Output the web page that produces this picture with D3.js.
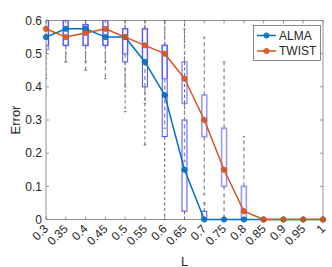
<!DOCTYPE html>
<html>
<head>
<meta charset="utf-8">
<script src="https://cdn.jsdelivr.net/npm/d3@7"></script>
<style>
  body { margin: 0; background: #fff; }
  svg { display: block; font-family: "Liberation Sans", Arial, sans-serif; }
</style>
</head>
<body>
<svg id="chart" width="332" height="267"></svg>
<script>
// L values (x axis)
const L = [0.3, 0.35, 0.4, 0.45, 0.5, 0.55, 0.6, 0.65, 0.7, 0.75, 0.8, 0.85, 0.9, 0.95, 1];
const xTicks = L;
const yTicks = [0, 0.1, 0.2, 0.3, 0.4, 0.5, 0.6];

// medians (plotted lines)
const almaMed  = [0.55, 0.575, 0.575, 0.55, 0.55, 0.475, 0.375, 0.15, 0, 0, 0, 0, 0, 0, 0];
const twistMed = [0.575, 0.55, 0.5625, 0.575, 0.55, 0.525, 0.5, 0.425, 0.3, 0.15, 0.025, 0, 0, 0, 0];

// box stats
const almaQ1 = [0.525, 0.525, 0.525, 0.525, 0.475, 0.4, 0.25, 0.025, 0, 0, 0, 0, 0, 0, 0];
const almaQ3 = [0.6, 0.6, 0.5875, 0.6, 0.575, 0.575, 0.525, 0.3, 0.025, 0, 0, 0, 0, 0, 0];
const almaLo = [0.425, 0.475, 0.475, 0.475, 0.325, 0.225, 0, 0, 0, 0, 0, 0, 0, 0, 0];
const almaHi = [0.6, 0.6, 0.6, 0.6, 0.6, 0.6, 0.6, 0.6, 0.05, 0, 0, 0, 0, 0, 0];

const twistQ1 = [0.5125, 0.525, 0.525, 0.525, 0.5, 0.475, 0.425, 0.35, 0.25, 0.1, 0, 0, 0, 0, 0];
const twistQ3 = [0.6, 0.6, 0.5875, 0.6, 0.575, 0.575, 0.525, 0.475, 0.375, 0.275, 0.1, 0, 0, 0, 0];
const twistLo = [0.5, 0.475, 0.45, 0.425, 0.4, 0.35, 0.275, 0.175, 0.075, 0, 0, 0, 0, 0, 0];
const twistHi = [0.6, 0.6, 0.6, 0.6, 0.6, 0.6, 0.6, 0.575, 0.55, 0.475, 0.25, 0, 0, 0, 0];

const svg = d3.select("#chart");
const mLeft = 46, mRight = 323, mTop = 20.5, mBottom = 219.5;
const txt = "#262626";

const x = d3.scaleLinear().domain([0.3, 1]).range([mLeft, mRight]);
const y = d3.scaleLinear().domain([0, 0.6]).range([mBottom, mTop]);

svg.append("defs").append("clipPath").attr("id", "clip")
  .append("rect").attr("x", mLeft).attr("y", mTop - 1)
  .attr("width", mRight - mLeft).attr("height", mBottom - mTop + 2);

const plot = svg.append("g").attr("clip-path", "url(#clip)");

const boxW = x(0.3125) - x(0.3);
const capW = boxW / 2;

function drawBoxes(q1, q3, lo, hi, med, boxColor, boxWidth, boxOpacity, whColor, whWidth, dash) {
  const g = plot.append("g");
  L.forEach(function (l, i) {
    const cx = x(l);
    // whiskers
    g.append("line").attr("x1", cx).attr("x2", cx).attr("y1", y(q3[i])).attr("y2", y(hi[i]))
      .attr("stroke", whColor).attr("stroke-width", whWidth).attr("stroke-dasharray", dash);
    g.append("line").attr("x1", cx).attr("x2", cx).attr("y1", y(q1[i])).attr("y2", y(lo[i]))
      .attr("stroke", whColor).attr("stroke-width", whWidth).attr("stroke-dasharray", dash);
    [lo[i], hi[i]].forEach(function (v) {
      g.append("line").attr("x1", cx - capW / 2).attr("x2", cx + capW / 2)
        .attr("y1", y(v)).attr("y2", y(v))
        .attr("stroke", whColor).attr("stroke-width", whWidth);
    });
    // box
    g.append("rect").attr("x", cx - boxW / 2).attr("y", y(q3[i]))
      .attr("width", boxW).attr("height", Math.max(0, y(q1[i]) - y(q3[i])))
      .attr("fill", "none").attr("stroke", boxColor)
      .attr("stroke-width", boxWidth).attr("stroke-opacity", boxOpacity);
    // median
    g.append("line").attr("x1", cx - boxW / 2).attr("x2", cx + boxW / 2)
      .attr("y1", y(med[i])).attr("y2", y(med[i]))
      .attr("stroke", "#ff3333").attr("stroke-width", 1).attr("stroke-opacity", 0.7);
  });
}

drawBoxes(almaQ1, almaQ3, almaLo, almaHi, almaMed, "#2222ff", 1, 0.8, "#222", 0.7, "3,2.5");
drawBoxes(twistQ1, twistQ3, twistLo, twistHi, twistMed, "#5555ff", 1.6, 0.6, "#8c8c8c", 1.3, "4,3");

// axes frame
const axisCol = "#7a7a7a";
svg.append("rect").attr("x", mLeft).attr("y", mTop).attr("width", mRight - mLeft).attr("height", mBottom - mTop)
  .attr("fill", "none").attr("stroke", axisCol).attr("stroke-width", 0.8);

// ticks (inward, mirrored)
const tk = 3;
xTicks.forEach(function (t) {
  svg.append("line").attr("x1", x(t)).attr("x2", x(t)).attr("y1", mBottom).attr("y2", mBottom - tk)
    .attr("stroke", axisCol).attr("stroke-width", 0.8);
  svg.append("line").attr("x1", x(t)).attr("x2", x(t)).attr("y1", mTop).attr("y2", mTop + tk)
    .attr("stroke", axisCol).attr("stroke-width", 0.8);
});
yTicks.forEach(function (t) {
  svg.append("line").attr("x1", mLeft).attr("x2", mLeft + tk).attr("y1", y(t)).attr("y2", y(t))
    .attr("stroke", axisCol).attr("stroke-width", 0.8);
  svg.append("line").attr("x1", mRight).attr("x2", mRight - tk).attr("y1", y(t)).attr("y2", y(t))
    .attr("stroke", axisCol).attr("stroke-width", 0.8);
});

// tick labels
svg.append("g").selectAll("text").data(yTicks).enter().append("text")
  .attr("x", mLeft - 4).attr("y", function (d) { return y(d) + 4.2; })
  .attr("text-anchor", "end").attr("font-size", 12).attr("fill", txt)
  .text(function (d) { return d3.format("")(d); });

svg.append("g").selectAll("text").data(xTicks).enter().append("text")
  .attr("transform", function (d) { return "translate(" + (x(d) + 3) + "," + (mBottom + 10) + ") rotate(-45)"; })
  .attr("text-anchor", "end").attr("font-size", 12).attr("fill", txt)
  .text(function (d) { return d3.format("")(d); });

// axis labels
svg.append("text").attr("x", (mLeft + mRight) / 2).attr("y", 265.5)
  .attr("text-anchor", "middle").attr("font-size", 13).attr("fill", txt).text("L");
svg.append("text").attr("transform", "translate(19.5," + (mTop + mBottom) / 2 + ") rotate(-90)")
  .attr("text-anchor", "middle").attr("font-size", 13).attr("fill", txt).text("Error");

// median lines with markers
const series = [
  { name: "ALMA", values: almaMed, color: "#0072BD" },
  { name: "TWIST", values: twistMed, color: "#D95319" }
];
const line = d3.line().x(function (d) { return x(d[0]); }).y(function (d) { return y(d[1]); });

series.forEach(function (s) {
  const pts = L.map(function (l, i) { return [l, s.values[i]]; });
  svg.append("path").datum(pts).attr("d", line)
    .attr("fill", "none").attr("stroke", s.color).attr("stroke-width", 1.5);
  svg.append("g").selectAll("circle").data(pts).enter().append("circle")
    .attr("cx", function (d) { return x(d[0]); }).attr("cy", function (d) { return y(d[1]); })
    .attr("r", 2.6).attr("fill", s.color).attr("fill-opacity", 0.85)
    .attr("stroke", s.color).attr("stroke-width", 1);
});

// legend
const lg = svg.append("g");
lg.append("rect").attr("x", 253.5).attr("y", 25.5).attr("width", 67).attr("height", 35)
  .attr("fill", "#fff").attr("stroke", "#555").attr("stroke-width", 0.7);
series.forEach(function (s, i) {
  const ly = 35.5 + i * 15.5;
  lg.append("line").attr("x1", 257).attr("x2", 276).attr("y1", ly).attr("y2", ly)
    .attr("stroke", s.color).attr("stroke-width", 1.5);
  lg.append("circle").attr("cx", 266.5).attr("cy", ly).attr("r", 2.6)
    .attr("fill", s.color).attr("fill-opacity", 0.85).attr("stroke", s.color);
  lg.append("text").attr("x", 279).attr("y", ly + 4.2).attr("font-size", 12).attr("fill", txt).text(s.name);
});
</script>
</body>
</html>
